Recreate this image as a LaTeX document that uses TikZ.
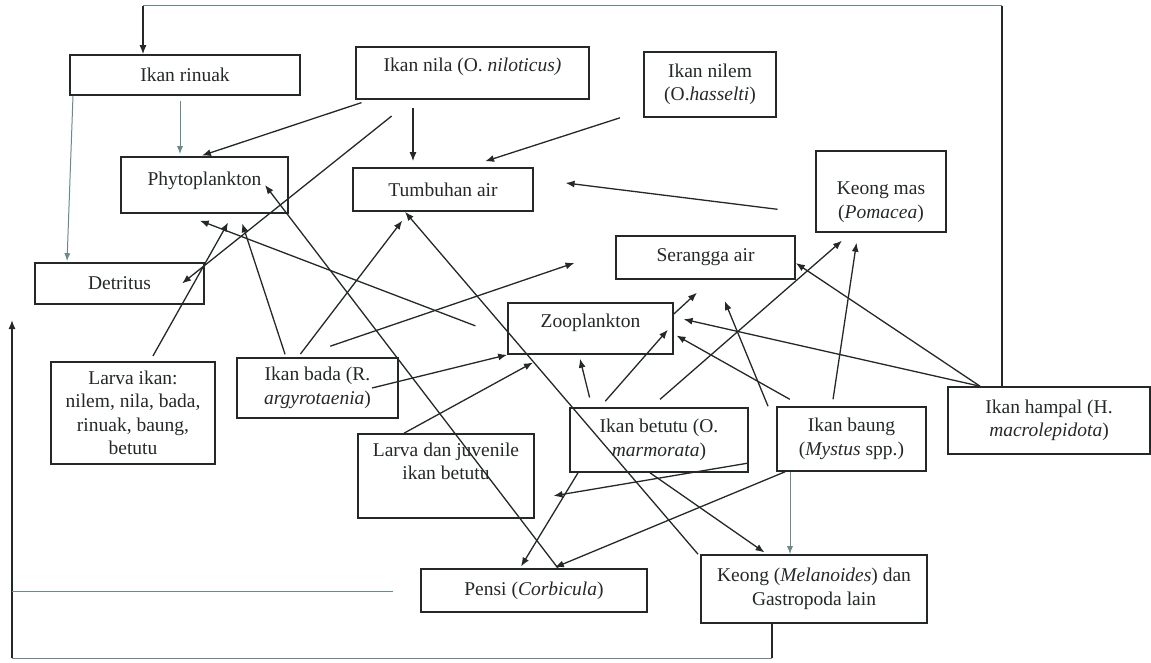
\documentclass[tikz,border=0pt]{standalone}
\usepackage{fontspec}
\setmainfont{Liberation Serif}
\usetikzlibrary{arrows.meta}
\definecolor{inkc}{RGB}{36,40,40}
\definecolor{framec}{RGB}{105,138,138}

\begin{document}
\begin{tikzpicture}[x=1pt, y=-1pt,
    box/.style={draw=inkc, line width=1.6pt, inner sep=0pt, align=center, text=inkc,
        font=\fontsize{19.5}{23.5}\selectfont},
    arr/.style={draw=inkc, line width=1.3pt, -{Latex[length=9pt,width=7pt]}},
    thinarr/.style={draw=framec, line width=1pt, -{Latex[length=8pt,width=6pt]}},
    loopline/.style={draw=framec, line width=1pt}]
    \useasboundingbox (0,0) rectangle (1151,663);

    % Boxes
    \node[box, minimum width=230pt, minimum height=40pt] (rinuak) at (185,75) {Ikan rinuak};
    \node[box, minimum width=233pt, minimum height=52pt, text depth=16pt] (nila) at (472.5,73) {Ikan nila (O. \textit{niloticus)}};
    \node[box, minimum width=132pt, minimum height=65pt] (nilem) at (710,84.5) {Ikan nilem\\(O.\textit{hasselti})};
    \node[box, minimum width=167pt, minimum height=56pt, text depth=12pt] (phyto) at (204.5,185) {Phytoplankton};
    \node[box, minimum width=180pt, minimum height=43pt] (tumbuhan) at (443,189.5) {Tumbuhan air};
    \node[box, minimum width=130pt, minimum height=81pt, text height=58pt] (keongmas) at (881,191.5) {Keong mas\\(\textit{Pomacea})};
    \node[box, minimum width=179pt, minimum height=43pt] (serangga) at (705.5,257.5) {Serangga air};
    \node[box, minimum width=169pt, minimum height=41pt] (detritus) at (119.5,283.5) {Detritus};
    \node[box, minimum width=165pt, minimum height=51pt, text depth=15pt] (zoo) at (590.5,328.5) {Zooplankton};
    \node[box, minimum width=164pt, minimum height=102pt] (larva) at (133,413) {Larva ikan:\\nilem, nila, bada,\\rinuak, baung,\\betutu};
    \node[box, minimum width=161pt, minimum height=60pt] (bada) at (317.5,388) {Ikan bada (R.\\\textit{argyrotaenia})};
    \node[box, minimum width=176pt, minimum height=84pt, text depth=30pt] (larvajuv) at (446,476) {Larva dan juvenile\\ikan betutu};
    \node[box, minimum width=178pt, minimum height=64pt] (betutu) at (659,440) {Ikan betutu (O.\\\textit{marmorata})};
    \node[box, minimum width=149pt, minimum height=64pt] (baung) at (851.5,439) {Ikan baung\\(\textit{Mystus} spp.)};
    \node[box, minimum width=202pt, minimum height=67pt] (hampal) at (1049,420.5) {Ikan hampal (H.\\\textit{macrolepidota})};
    \node[box, minimum width=226pt, minimum height=43pt] (pensi) at (534,590.5) {Pensi (\textit{Corbicula})};
    \node[box, minimum width=226pt, minimum height=68pt] (keong) at (814,589) {Keong (\textit{Melanoides}) dan\\Gastropoda lain};

    % Loop corners
    \coordinate (tr) at (1002,6);
    \coordinate (tl) at (143,6);
    \coordinate (br) at (772,658);
    \coordinate (bl) at (12,658);
    \coordinate (le) at (12,320);
    \coordinate (stub) at (393,591);

    % Loops
    \draw[draw=inkc, line width=1.2pt] (hampal.north -| tr) -- (tr);
    \draw[loopline] (tr) -- (tl);
    \draw[arr] (tl) -- (rinuak.north -| tl);
    \draw[draw=inkc, line width=1.2pt] (keong.south -| br) -- (br);
    \draw[loopline] (br) -- (bl);
    \draw[arr] (bl) -- (le);
    \draw[loopline] (le |- stub) -- (stub);

    % Arrows from the top
    \draw[thinarr, shorten <=5pt, shorten >=2pt] (rinuak.south -| 180,0) -- (phyto.north -| 180,0);
    \draw[thinarr, shorten >=1pt] (rinuak.south -| 73,0) -- (detritus.north -| 67,0);
    \draw[arr, shorten <=9pt, shorten >=2pt] (nila.south -| 370,0) -- (phyto.north -| 200,0);
    \draw[arr, shorten <=26pt] (nila.south -| 412,0) -- (detritus.center -| 182,0);
    \draw[arr, shorten <=8pt, shorten >=6pt] (nila.south -| 413,0) -- (tumbuhan.north -| 413,0);
    \draw[arr, shorten >=19pt] (nilem.south -| 620,0) -- (tumbuhan.north -| 467,0);
    \draw[arr, shorten <=38pt, shorten >=32pt] (keongmas.west |- 0,214) -- (tumbuhan.east |- 0,179);

    % Arrows into phytoplankton and tumbuhan air
    \draw[arr, shorten <=6pt, shorten >=10pt] (larva.north -| 150,0) -- (phyto.south -| 233,0);
    \draw[arr, shorten <=3pt, shorten >=10pt] (bada.north -| 286,0) -- (phyto.south -| 239,0);
    \draw[arr, shorten <=34pt, shorten >=19pt] (zoo.west |- 0,338) -- (phyto.south -| 182,0);
    \draw[arr] (pensi.north -| 558,0) -- (phyto.center -| 265,0);
    \draw[arr, shorten <=4pt, shorten >=11pt] (bada.north -| 298,0) -- (tumbuhan.south -| 409,0);
    \draw[arr] (keong.north -| 698,0) -- (tumbuhan.south -| 405,0);

    % Arrows from the middle row
    \draw[arr, shorten <=34pt, shorten >=43pt] (bada.north -| 298,0) -- (serangga.west |- 0,249);
    \draw[arr] (bada.center -| 372,0) -- (zoo.south west);
    \draw[arr, shorten >=16pt] (larvajuv.north -| 404,0) -- (zoo.south -| 547,0);
    \draw[arr, shorten <=10pt, shorten >=4pt] (betutu.north -| 592,0) -- (zoo.south -| 579,0);
    \draw[arr, shorten <=8pt, shorten >=9pt] (betutu.north -| 600,0) -- (zoo.east |- 0,323);
    \draw[arr, shorten >=19pt] (zoo.east |- 0,314) -- (serangga.south -| 711,0);
    \draw[arr, shorten >=10pt] (hampal.north -| 980,0) -- (zoo.east |- 0,317);
    \draw[arr] (hampal.north -| 980,0) -- (serangga.east |- 0,263);
    \draw[arr, shorten <=14pt, shorten >=3pt] (baung.north -| 802,0) -- (zoo.east |- 0,334);
    \draw[arr, shorten >=23pt] (baung.north -| 768,0) -- (serangga.south -| 716,0);
    \draw[arr, shorten <=12pt, shorten >=12pt] (betutu.north -| 651,0) -- (keongmas.south -| 851,0);
    \draw[arr, shorten <=7pt, shorten >=10pt] (baung.north -| 832,0) -- (keongmas.south -| 858,0);

    % Arrows to the bottom row
    \draw[arr, shorten >=3pt] (betutu.south -| 650,0) -- (keong.north -| 767,0);
    \draw[thinarr] (baung.south -| 790,0) -- (keong.north -| 790,0);
    \draw[arr, shorten >=19pt] (betutu.east |- 0,463) -- (larvajuv.east |- 0,499);
    \draw[arr, shorten >=2pt] (betutu.south -| 578,0) -- (pensi.north -| 520,0);
    \draw[arr, shorten >=2pt] (baung.south -| 785,0) -- (pensi.north -| 553,0);
\end{tikzpicture}
\end{document}
